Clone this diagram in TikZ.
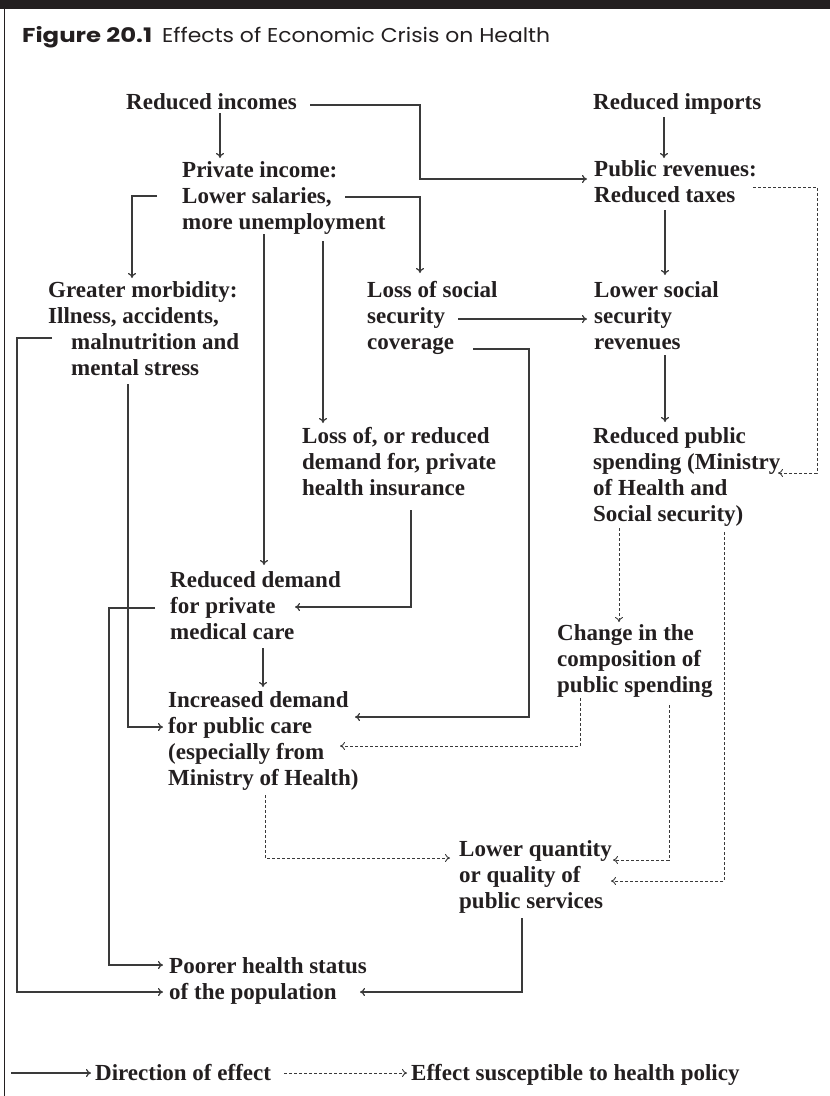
\documentclass[tikz,border=0pt]{standalone}
\usepackage{fontspec}
\usepackage{graphicx}
\setmainfont{Liberation Serif}
\newfontfamily\titlefont{Poppins}
\usetikzlibrary{arrows.meta}

\definecolor{ink}{HTML}{231F20}
\definecolor{wire}{HTML}{3A3A3A}

\tikzset{
  lbl/.style={anchor=base west, inner sep=0pt, text=ink,
              font=\fontsize{23}{26}\selectfont\bfseries},
  fx/.style={draw=wire, line width=1.2pt,
             -{Computer Modern Rightarrow[length=5pt,width=8pt]}},
  pol/.style={fx, line width=0.9pt, dash pattern=on 3pt off 2pt},
}
\newcommand\blk[1]{\begin{tabular}[t]{@{}l@{}}#1\end{tabular}}

\begin{document}
\begin{tikzpicture}[x=1pt,y=-1pt]
\useasboundingbox (0,0) rectangle (830,1096);

% frame: heavy rule on top, thin rule down the left side
\fill[ink] (0,0) rectangle (830,9);
\draw[ink, line width=1.5pt] (4.5,9) -- (4.5,1096);

% title
\node[anchor=base west, inner sep=0pt, text=ink] (ttl) at (22,42)
  {\resizebox{130pt}{\height}{\titlefont\bfseries\fontsize{20}{20}\selectfont Figure 20.1}\hspace{10pt}%
   \resizebox{388pt}{\height}{\titlefont\fontsize{20}{20}\selectfont Effects of Economic Crisis on Health}};

% text blocks
\node[lbl] (ri) at (126,109) {Reduced incomes};
\node[lbl] (rm) at (593,109) {Reduced imports};
\node[lbl] (pi) at (182,177) {\blk{Private income:\\Lower salaries,\\more unemployment}};
\node[lbl] (pr) at (594,176) {\blk{Public revenues:\\Reduced taxes}};
\node[lbl] (gm) at (48,297) {\blk{Greater morbidity:\\Illness, accidents,\\\hspace*{23pt}malnutrition and\\\hspace*{23pt}mental stress}};
\node[lbl] (ls) at (367,297) {\blk{Loss of social\\security\\coverage}};
\node[lbl] (lr) at (594,297) {\blk{Lower social\\security\\revenues}};
\node[lbl] (lp) at (302,443) {\blk{Loss of, or reduced\\demand for, private\\health insurance}};
\node[lbl] (rp) at (593,443) {\blk{Reduced public\\spending (Ministry\\of Health and\\Social security)}};
\node[lbl] (rd) at (170,587) {\blk{Reduced demand\\for private\\medical care}};
\node[lbl] (cc) at (557,640) {\blk{Change in the\\composition of\\public spending}};
\node[lbl] (id) at (168,707) {\blk{Increased demand\\for public care\\(especially from\\Ministry of Health)}};
\node[lbl] (lq) at (459,856) {\blk{Lower quantity\\or quality of\\public services}};
\node[lbl] (ph) at (169,973) {\blk{Poorer health status\\of the population}};

% legend
\node[lbl] (lg1) at (95,1080) {Direction of effect};
\node[lbl] (lg2) at (411,1080) {Effect susceptible to health policy};

% connector end points
\coordinate (c1a) at (220,113);  \coordinate (c1b) at (220,158);
\coordinate (c2a) at (310,105);  \coordinate (c2k) at (420,179);  \coordinate (c2b) at (587,179);
\coordinate (c3a) at (664,117);  \coordinate (c3b) at (664,158);
\coordinate (c4a) at (157,196);  \coordinate (c4b) at (132,278);
\coordinate (c5a) at (345,197);  \coordinate (c5b) at (420,273);
\coordinate (c6a) at (264,234);  \coordinate (c6b) at (264,565);
\coordinate (c7a) at (323,241);  \coordinate (c7b) at (323,423);
\coordinate (c8a) at (665,210);  \coordinate (c8b) at (665,275);
\coordinate (c9a) at (753,187);  \coordinate (c9k) at (817,473);  \coordinate (c9b) at (778,473);
\coordinate (c10a) at (458,319); \coordinate (c10b) at (587,319);
\coordinate (c11a) at (473,349); \coordinate (c11k) at (529,717); \coordinate (c11b) at (355,717);
\coordinate (c12a) at (665,355); \coordinate (c12b) at (665,422);
\coordinate (c13a) at (128,384); \coordinate (c13b) at (163,727);
\coordinate (c14a) at (52,338);  \coordinate (c14k) at (17,992);  \coordinate (c14b) at (163,992);
\coordinate (c15a) at (411,510); \coordinate (c15b) at (295,607);
\coordinate (c16a) at (155,608); \coordinate (c16k) at (109,965); \coordinate (c16b) at (163,965);
\coordinate (c17a) at (263,648); \coordinate (c17b) at (263,687);
\coordinate (c18a) at (619,528); \coordinate (c18b) at (619,622);
\coordinate (c19a) at (724,532); \coordinate (c19b) at (611,881);
\coordinate (c20a) at (580,698); \coordinate (c20b) at (340,746);
\coordinate (c21a) at (669,705); \coordinate (c21b) at (613,860);
\coordinate (c22a) at (265,795); \coordinate (c22b) at (450,858);
\coordinate (c23a) at (522,918); \coordinate (c23b) at (360,992);
\coordinate (c24a) at (11,1073); \coordinate (c24b) at (91,1073);
\coordinate (c25a) at (284,1073);\coordinate (c25b) at (407,1073);

% direct effects
\draw[fx] (c1a) -- (c1b);
\draw[fx] (c2a) -| (c2k) -- (c2b);
\draw[fx] (c3a) -- (c3b);
\draw[fx] (c4a) -| (c4b);
\draw[fx] (c5a) -| (c5b);
\draw[fx] (c6a) -- (c6b);
\draw[fx] (c7a) -- (c7b);
\draw[fx] (c8a) -- (c8b);
\draw[fx] (c10a) -- (c10b);
\draw[fx] (c11a) -| (c11k) -- (c11b);
\draw[fx] (c12a) -- (c12b);
\draw[fx] (c13a) |- (c13b);
\draw[fx] (c14a) -| (c14k) -- (c14b);
\draw[fx] (c15a) |- (c15b);
\draw[fx] (c16a) -| (c16k) -- (c16b);
\draw[fx] (c17a) -- (c17b);
\draw[fx] (c23a) |- (c23b);

% effects open to health policy
\draw[pol] (c9a) -| (c9k) -- (c9b);
\draw[pol] (c18a) -- (c18b);
\draw[pol] (c19a) |- (c19b);
\draw[pol] (c20a) |- (c20b);
\draw[pol] (c21a) |- (c21b);
\draw[pol] (c22a) |- (c22b);

% legend samples
\draw[fx] (c24a) -- (c24b);
\draw[pol] (c25a) -- (c25b);
\end{tikzpicture}
\end{document}
